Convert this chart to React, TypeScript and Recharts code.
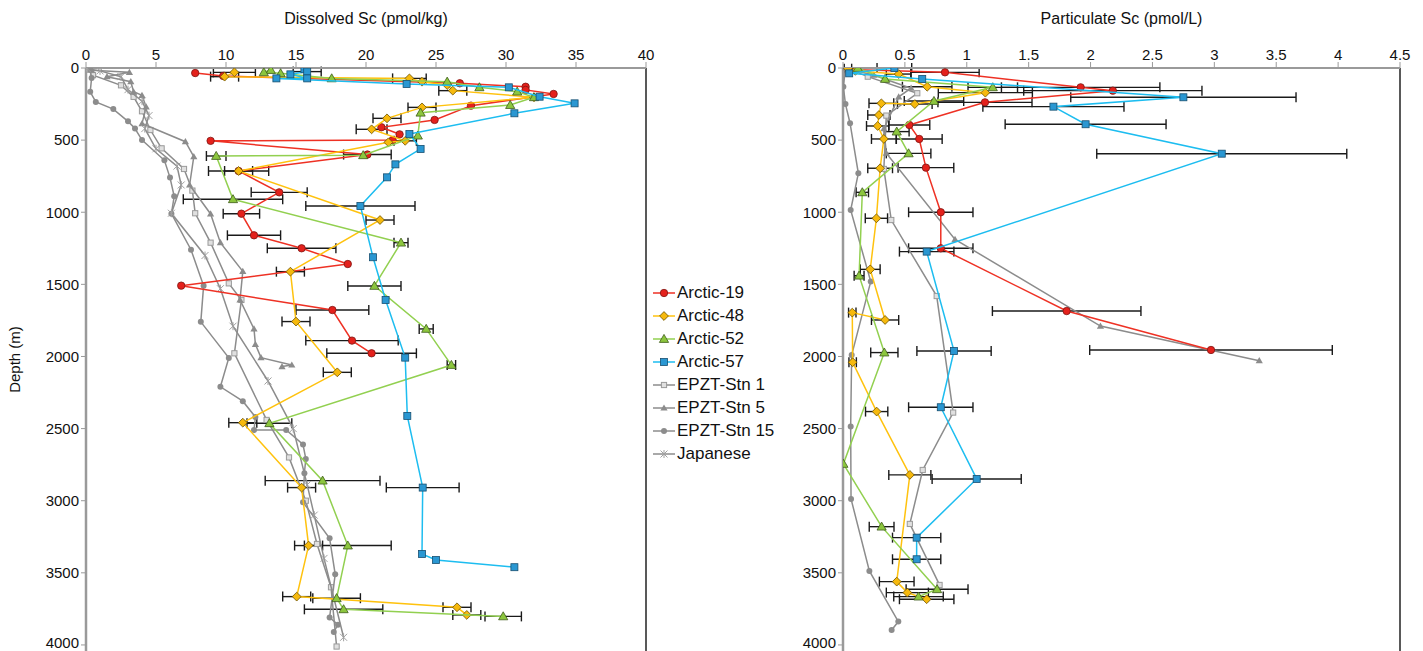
import React from "react"
import { ErrorBar, ReferenceLine, Scatter, ScatterChart, XAxis, YAxis } from "recharts"

// [depth (m), value, error]
type Pt = [number, number, number?]

const depthTicks = [0, 500, 1000, 1500, 2000, 2500, 3000, 3500, 4000]
const dissolvedTicks = [0, 5, 10, 15, 20, 25, 30, 35, 40]
const particulateTicks = [0, 0.5, 1, 1.5, 2, 2.5, 3, 3.5, 4, 4.5]

// Dissolved Sc (pmol/kg)
const arctic19Diss: Pt[] = [
  [35, 7.8], [55, 9.8], [106, 26.7], [130, 31.4], [152, 31.4], [180, 33.4], [261, 27.5], [360, 24.9],
  [411, 21.1], [460, 22.4], [500, 21.9], [505, 8.9], [600, 20.1, 1.7], [714, 10.9, 2.15], [862, 13.8, 2],
  [1010, 11.1, 1.3], [1160, 12.0, 1.9], [1250, 15.4, 2.45], [1359, 18.7], [1509, 6.8], [1678, 17.6, 2.6],
  [1890, 19.0, 3.3], [1978, 20.4, 3.2],
]
const arctic48Diss: Pt[] = [
  [30, 10.6, 1.5], [60, 9.9, 1.0], [72, 23.1, 1.2], [95, 24.0], [118, 25.8], [157, 26.2, 1.0], [203, 32.0],
  [273, 24.0, 1.0], [349, 21.5, 1.0], [425, 20.4, 1.1], [505, 22.8, 0.8], [515, 21.6], [714, 10.9, 1.0],
  [1054, 21.0, 1.0], [1412, 14.6, 1.0], [1758, 15.0, 1.0], [2110, 17.95, 1.0], [2459, 11.2, 1.0],
  [2909, 15.4, 1.0], [3311, 15.9, 1.0], [3665, 15.05, 1.0], [3739, 26.5, 1.0], [3792, 27.2, 1.0],
]
const arctic52Diss: Pt[] = [
  [14, 13.2], [30, 12.7], [37, 13.9], [72, 17.55], [95, 25.8], [134, 28.1], [164, 30.8], [203, 32.0],
  [257, 30.3], [310, 23.9], [469, 23.7], [605, 19.8], [610, 9.3, 0.7], [910, 10.5, 3.55], [1211, 22.5, 0.5],
  [1511, 20.6, 1.9], [1809, 24.3, 0.5], [2059, 26.1, 0.3], [2463, 13.1, 1.6], [2861, 16.9, 4.1],
  [3311, 18.7, 3.1], [3676, 17.9, 1.7], [3753, 18.4, 2.8], [3802, 29.8, 1.3],
]
const arctic57Diss: Pt[] = [
  [9, 15.6], [25, 15.8, 1.0], [44, 14.6], [72, 15.8], [72, 13.6], [111, 22.9], [134, 30.2], [199, 32.4],
  [245, 34.9], [314, 30.6], [458, 23.1], [561, 23.9], [668, 22.1], [758, 21.5], [957, 19.6, 3.9],
  [1312, 20.5], [1608, 21.4], [2008, 22.8], [2412, 22.95], [2909, 24.05, 2.6], [3369, 24.0], [3411, 25.0],
  [3461, 30.6],
]
const stn1Diss: Pt[] = [
  [10, 0.2], [50, 0.5], [120, 2.5], [200, 3.4], [300, 4.0], [430, 4.6], [557, 5.4], [700, 7.0], [850, 7.6],
  [1007, 7.8], [1211, 8.9], [1493, 10.2], [1608, 11.1], [1978, 10.6], [2440, 12.9], [2700, 14.5],
  [3000, 15.7], [3300, 16.5], [3600, 17.5], [4011, 17.9],
]
const stn5Diss: Pt[] = [
  [15, 0.4], [30, 3.1], [60, 1.5], [95, 3.2], [165, 3.4], [190, 4.0], [270, 4.3], [385, 4.0], [511, 7.1],
  [615, 7.7], [811, 7.4], [1012, 8.9], [1211, 9.6], [1410, 11.2], [1608, 11.0], [1809, 12.0], [1916, 12.1],
  [2008, 12.5], [2059, 14.7], [2070, 14.0],
]
const stn15Diss: Pt[] = [
  [10, 0.3], [70, 0.4], [165, 0.3], [235, 0.7], [285, 1.95], [370, 3.0], [420, 3.5], [500, 4.0], [640, 5.6],
  [760, 6.0], [890, 6.3], [1010, 6.1], [1260, 7.5], [1510, 8.4], [1760, 8.2], [2010, 10.2], [2210, 9.6],
  [2310, 11.2], [2420, 12.1], [2510, 12.0], [2510, 14.3], [2610, 15.5], [2710, 15.7], [2810, 15.6],
  [3010, 15.5], [3260, 17.4], [3510, 17.8], [3810, 17.4], [3860, 18.0], [3910, 17.7],
]
const japaneseDiss: Pt[] = [
  [5, 0.1], [20, 1.0], [60, 2.5], [150, 3.0], [230, 4.0], [330, 4.5], [420, 4.2], [560, 5.0], [680, 6.5],
  [811, 6.8], [1007, 6.1], [1300, 8.5], [1530, 9.6], [1790, 10.5], [2170, 13.0], [2500, 14.8], [2890, 15.8],
  [3100, 16.3], [3400, 17.0], [3947, 18.4],
]

// Particulate Sc (pmol/L)
const arctic19Part: Pt[] = [
  [10, 0.05], [30, 0.824, 0.276], [134, 1.92, 0.64], [157, 2.18, 0.72], [238, 1.147, 0.38],
  [395, 0.536, 0.165], [492, 0.616, 0.185], [691, 0.67, 0.225], [1000, 0.79, 0.26], [1250, 0.79, 0.26],
  [1685, 1.807, 0.6], [1955, 2.973, 0.98],
]
const arctic48Part: Pt[] = [
  [5, 0.04, 0.03], [20, 0.1], [42, 0.45, 0.1], [130, 0.68, 0.2], [171, 1.15, 0.38], [250, 0.58, 0.14],
  [245, 0.31, 0.1], [326, 0.29, 0.09], [402, 0.28, 0.09], [492, 0.33, 0.1], [695, 0.3, 0.1],
  [1042, 0.27, 0.09], [1396, 0.22, 0.08], [1747, 0.34, 0.11], [1696, 0.075, 0.03], [2040, 0.078, 0.03],
  [2382, 0.272, 0.09], [2821, 0.54, 0.17], [3561, 0.434, 0.14], [3637, 0.52, 0.17], [3683, 0.676, 0.22],
]
const arctic52Part: Pt[] = [
  [0, 0.12], [76, 0.34], [134, 1.21, 0.2], [229, 0.735, 0.24], [441, 0.434, 0.1], [592, 0.53, 0.18],
  [862, 0.156, 0.05], [1440, 0.13, 0.04], [1973, 0.334, 0.11], [2745, 0.003], [3180, 0.312, 0.1],
  [3614, 0.76, 0.25], [3665, 0.61, 0.2],
]
const arctic57Part: Pt[] = [
  [0, 0.415, 0.14], [37, 0.05], [76, 0.64], [203, 2.75, 0.91], [268, 1.7, 0.57], [390, 1.96, 0.65],
  [594, 3.06, 1.01], [1273, 0.676, 0.22], [1962, 0.897, 0.3], [2352, 0.79, 0.26], [2849, 1.08, 0.36],
  [3256, 0.595, 0.195], [3406, 0.595, 0.195],
]
const stn1Part: Pt[] = [
  [0, 0.03], [60, 0.2], [175, 0.6], [330, 0.35], [700, 0.33], [1054, 0.39], [1581, 0.757], [2389, 0.89],
  [2787, 0.644], [3161, 0.54], [3584, 0.78],
]
const stn5Part: Pt[] = [
  [0, 0.02], [50, 0.25], [140, 0.55], [200, 0.45], [420, 0.33], [590, 0.35], [1188, 0.905], [1789, 2.08],
  [2029, 3.363],
]
const stn15Part: Pt[] = [
  [0, 0.02], [130, 0.003], [250, 0.02], [383, 0.057], [730, 0.124], [985, 0.062], [1481, 0.224],
  [1990, 0.07], [2486, 0.062], [2988, 0.065], [3487, 0.213], [3838, 0.447], [3896, 0.393],
]

const seriesNames = ["Arctic-19", "Arctic-48", "Arctic-52", "Arctic-57", "EPZT-Stn 1", "EPZT-Stn 5", "EPZT-Stn 15", "Japanese"]

type Kind = "circle" | "diamond" | "triangle" | "square" | "osquare" | "gtri" | "gcircle" | "star"
const styles: Record<string, { kind: Kind; line: string; fill: string; stroke: string }> = {
  "Arctic-19": { kind: "circle", line: "#ee3124", fill: "#e4211c", stroke: "#7d1512" },
  "Arctic-48": { kind: "diamond", line: "#ffc20e", fill: "#f6b90d", stroke: "#6b5200" },
  "Arctic-52": { kind: "triangle", line: "#92d050", fill: "#8cc63e", stroke: "#3f5c1c" },
  "Arctic-57": { kind: "square", line: "#1dbdf0", fill: "#2a97d2", stroke: "#174f70" },
  "EPZT-Stn 1": { kind: "osquare", line: "#8c8c8c", fill: "#e0e0e0", stroke: "#9a9a9a" },
  "EPZT-Stn 5": { kind: "gtri", line: "#8c8c8c", fill: "#8c8c8c", stroke: "#8c8c8c" },
  "EPZT-Stn 15": { kind: "gcircle", line: "#8c8c8c", fill: "#8c8c8c", stroke: "#8c8c8c" },
  Japanese: { kind: "star", line: "#8c8c8c", fill: "#a0a0a0", stroke: "#a0a0a0" },
}

function Marker({ kind, x, y, fill, stroke }: { kind: Kind; x: number; y: number; fill: string; stroke: string }) {
  if (x == null || y == null || isNaN(x) || isNaN(y)) return null
  switch (kind) {
    case "circle":
      return <circle cx={x} cy={y} r={3.7} fill={fill} stroke={stroke} strokeWidth={0.8} />
    case "diamond":
      return <polygon points={`${x},${y - 4.4} ${x + 4.4},${y} ${x},${y + 4.4} ${x - 4.4},${y}`} fill={fill} stroke={stroke} strokeWidth={0.8} />
    case "triangle":
      return <polygon points={`${x},${y - 4.6} ${x + 4.6},${y + 3.4} ${x - 4.6},${y + 3.4}`} fill={fill} stroke={stroke} strokeWidth={0.8} />
    case "square":
      return <rect x={x - 3.5} y={y - 3.5} width={7} height={7} fill={fill} stroke={stroke} strokeWidth={0.8} />
    case "osquare":
      return <rect x={x - 2.6} y={y - 2.6} width={5.2} height={5.2} fill={fill} stroke={stroke} strokeWidth={1} />
    case "gtri":
      return <polygon points={`${x},${y - 3.6} ${x + 3.6},${y + 2.6} ${x - 3.6},${y + 2.6}`} fill={fill} />
    case "gcircle":
      return <circle cx={x} cy={y} r={3} fill={fill} />
    case "star":
      return (
        <g stroke={stroke} strokeWidth={1}>
          <line x1={x - 3.5} y1={y - 3.5} x2={x + 3.5} y2={y + 3.5} />
          <line x1={x - 3.5} y1={y + 3.5} x2={x + 3.5} y2={y - 3.5} />
          <line x1={x} y1={y - 4} x2={x} y2={y + 4} />
        </g>
      )
  }
  return null
}

const toRows = (pts: Pt[]) => pts.map(([d, v, e]) => ({ d, v, e: e ? e : undefined }))

const dissolved: [string, Pt[]][] = [
  ["EPZT-Stn 1", stn1Diss], ["EPZT-Stn 5", stn5Diss], ["EPZT-Stn 15", stn15Diss], ["Japanese", japaneseDiss],
  ["Arctic-19", arctic19Diss], ["Arctic-48", arctic48Diss], ["Arctic-52", arctic52Diss], ["Arctic-57", arctic57Diss],
]
const particulate: [string, Pt[]][] = [
  ["EPZT-Stn 1", stn1Part], ["EPZT-Stn 5", stn5Part], ["EPZT-Stn 15", stn15Part],
  ["Arctic-19", arctic19Part], ["Arctic-48", arctic48Part], ["Arctic-52", arctic52Part], ["Arctic-57", arctic57Part],
]

const axisGrey = "#9a9a9a"
const textColor = "#111"

function renderSeries(list: [string, Pt[]][]) {
  return list.map(([name, pts]) => {
    const s = styles[name]
    const hasErr = pts.some((p) => p[2])
    return (
      <Scatter
        key={name}
        name={name}
        data={toRows(pts)}
        line={{ stroke: s.line, strokeWidth: 1.5 }}
        lineType="joint"
        fill={s.fill}
        isAnimationActive={false}
        shape={(p: any) => <Marker kind={s.kind} x={p.cx} y={p.cy} fill={s.fill} stroke={s.stroke} />}
      >
        {hasErr && <ErrorBar dataKey="e" direction="x" width={5} stroke="#1a1a1a" strokeWidth={1.4} />}
      </Scatter>
    )
  })
}

function Profile({ title, ticks, max, list, width, yWidth, right, depthLabel }: any) {
  return (
    <ScatterChart width={width} height={651} margin={{ top: 38, right, bottom: 0, left: 0 }}>
      <XAxis
        type="number"
        dataKey="v"
        orientation="top"
        domain={[0, max]}
        ticks={ticks}
        allowDataOverflow
        height={30}
        tickSize={6}
        axisLine={{ stroke: axisGrey, strokeWidth: 2 }}
        tickLine={{ stroke: axisGrey }}
        tick={{ fill: textColor, fontSize: 15 }}
        label={{ value: title, position: "top", offset: 14, fontSize: 16, fill: textColor }}
      />
      <YAxis
        type="number"
        dataKey="d"
        reversed
        domain={[0, 4042]}
        ticks={depthTicks}
        allowDataOverflow
        width={yWidth}
        tickSize={5}
        axisLine={{ stroke: axisGrey, strokeWidth: 2.5 }}
        tickLine={{ stroke: axisGrey }}
        tick={{ fill: textColor, fontSize: 15 }}
        label={
          depthLabel
            ? { value: "Depth (m)", angle: -90, position: "insideLeft", offset: 15, fontSize: 15, fill: textColor, style: { textAnchor: "middle" } }
            : undefined
        }
      />
      <ReferenceLine x={max} stroke="#222" strokeWidth={1.5} />
      {renderSeries(list)}
    </ScatterChart>
  )
}

function LegendIcon({ name }: { name: string }) {
  const s = styles[name]
  return (
    <svg width={24} height={14} style={{ display: "block", flex: "none" }}>
      <line x1={1} y1={7} x2={23} y2={7} stroke={s.line} strokeWidth={1.5} />
      <Marker kind={s.kind} x={12} y={7} fill={s.fill} stroke={s.stroke} />
    </svg>
  )
}

export default function App() {
  return (
    <div style={{ position: "relative", width: 1423, height: 651, background: "#fff", fontFamily: "'Liberation Sans', Arial, sans-serif", overflow: "hidden" }}>
      <style>{"body{margin:0;overflow:hidden}"}</style>
      <div style={{ position: "absolute", left: 0, top: 0 }}>
        <Profile title="Dissolved Sc (pmol/kg)" ticks={dissolvedTicks} max={40} list={dissolved} width={660} yWidth={86} right={14} depthLabel />
      </div>
      <div style={{ position: "absolute", left: 790, top: 0 }}>
        <Profile title="Particulate Sc (pmol/L)" ticks={particulateTicks} max={4.5} list={particulate} width={633} yWidth={53} right={23} />
      </div>
      <div style={{ position: "absolute", left: 652, top: 281, zIndex: 2 }}>
        {seriesNames.map((n) => (
          <div key={n} style={{ display: "flex", alignItems: "center", height: 23.1, fontSize: 17, color: textColor, whiteSpace: "nowrap" }}>
            <LegendIcon name={n} />
            <span style={{ marginLeft: 1 }}>{n}</span>
          </div>
        ))}
      </div>
    </div>
  )
}
